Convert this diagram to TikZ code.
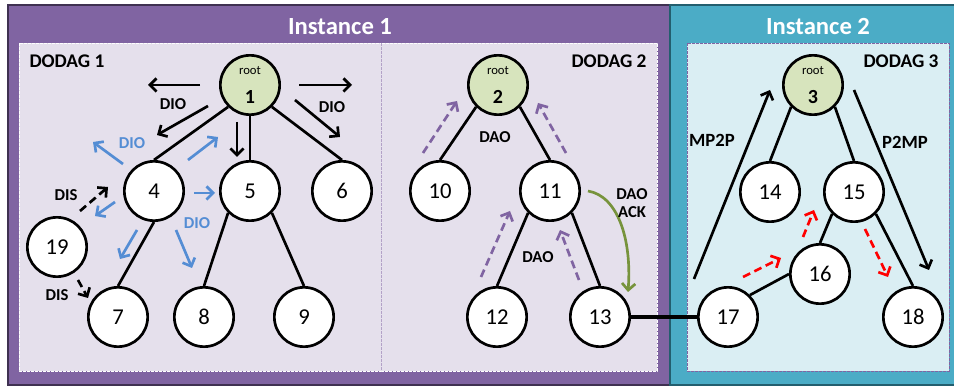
\documentclass[tikz,border=0pt]{standalone}
\usepackage{fontspec}
\setmainfont{Carlito}
\usetikzlibrary{arrows.meta}

\definecolor{instpurple}{RGB}{128,100,162}
\definecolor{instpurpledark}{RGB}{63,49,81}
\definecolor{dodaglav}{RGB}{229,224,236}
\definecolor{dodagedge}{RGB}{179,162,199}
\definecolor{insteal}{RGB}{75,172,198}
\definecolor{instealdark}{RGB}{35,94,110}
\definecolor{dodagblue}{RGB}{218,238,243}
\definecolor{rootgreen}{RGB}{215,228,189}
\definecolor{dioblue}{RGB}{84,141,212}
\definecolor{daopurple}{RGB}{128,100,162}
\definecolor{ackgreen}{RGB}{119,147,60}

\tikzset{every picture/.style={line width=0.75pt}}
\tikzset{
  nd/.style={circle,draw=black,fill=white,line width=2pt,minimum size=44.5pt,inner sep=0pt,font=\fontsize{17}{20}\selectfont},
  rootnd/.style={nd,fill=rootgreen,align=center},
  link/.style={line width=2pt},
  msg/.style={line width=2pt,-{Straight Barb[length=5pt,width=10pt]}},
  dmsg/.style={msg,dash pattern=on 6pt off 3.5pt},
  lbl/.style={font=\bfseries\fontsize{12.5}{14}\selectfont,inner sep=0.75pt},
  dodagbox/.style={line width=0.6pt,dash pattern=on 2pt off 1pt},
}

\begin{document}
\begin{tikzpicture}[x=0.75pt,y=0.75pt,yscale=-1,xscale=1]
\useasboundingbox (0,0) rectangle (954,388);

%Shape: Rectangle [Instance 1]
\draw [instpurpledark,fill=instpurple,line width=1.5pt] (8,5) rectangle (670,385);
%Shape: Rectangle [Instance 2]
\draw [instealdark,fill=insteal,line width=1.5pt] (670,5) rectangle (960,385);
%Shape: Rectangle [DODAG 1]
\draw [dodagbox,draw=white,fill=dodaglav] (19,43) rectangle (381,371);
%Shape: Rectangle [DODAG 2]
\draw [dodagbox,draw=white,fill=dodaglav] (381,43) rectangle (657,371);
\draw [dodagbox,draw=dodagedge] (381,43) -- (381,371);
%Shape: Rectangle [DODAG 3]
\draw [dodagbox,draw=instpurple,fill=dodagblue] (687,43) rectangle (949,371);

% Text Node
\draw (340,27) node [inner sep=0.75pt,text=white,font=\bfseries\fontsize{18.5}{20}\selectfont] (inst1) {Instance 1};
% Text Node
\draw (818,27) node [inner sep=0.75pt,text=white,font=\bfseries\fontsize{18.5}{20}\selectfont] (inst2) {Instance 2};
% Text Node
\draw (28,61) node [anchor=west,inner sep=0.75pt,font=\bfseries\fontsize{14.5}{16}\selectfont] (dodag1) {DODAG 1};
% Text Node
\draw (648,61) node [anchor=east,inner sep=0.75pt,font=\bfseries\fontsize{14.5}{16}\selectfont] (dodag2) {DODAG 2};
% Text Node
\draw (940,61) node [anchor=east,inner sep=0.75pt,font=\bfseries\fontsize{14.5}{16}\selectfont] (dodag3) {DODAG 3};

%Shape: Circle [nodes]
\node [rootnd] (r1) at (250,85) {{\fontsize{9.5}{10}\selectfont root}\\[2pt]{\bfseries\fontsize{15}{15}\selectfont 1}};
\node [rootnd] (r2) at (498,85) {{\fontsize{9.5}{10}\selectfont root}\\[2pt]{\bfseries\fontsize{15}{15}\selectfont 2}};
\node [rootnd] (r3) at (813,85) {{\fontsize{9.5}{10}\selectfont root}\\[2pt]{\bfseries\fontsize{15}{15}\selectfont 3}};
\node [nd] (n4) at (154,191) {4};
\node [nd] (n5) at (250,191) {5};
\node [nd] (n6) at (342,191) {6};
\node [nd] (n7) at (118,317) {7};
\node [nd] (n8) at (204,317) {8};
\node [nd] (n9) at (304,317) {9};
\node [nd] (n19) at (57,247) {19};
\node [nd] (n10) at (440,191) {10};
\node [nd] (n11) at (550,191) {11};
\node [nd] (n12) at (497,317) {12};
\node [nd] (n13) at (600,317) {13};
\node [nd] (n14) at (770,192) {14};
\node [nd] (n15) at (854,192) {15};
\node [nd] (n16) at (820,274) {16};
\node [nd] (n17) at (728,317) {17};
\node [nd] (n18) at (913,317) {18};

%Shape: Lines [tree links]
\draw [link] (r1.south west) -- (n4.north);
\draw [link] (r1.south) -- (n5.north);
\draw [link] (r1.south east) -- (n6.north);
\draw [link] (n4.south) -- (n7.north);
\draw [link] (n5.south west) -- (n8.north);
\draw [link] (n5.south east) -- (n9.north);
\draw [link] (r2.south west) -- (n10.north);
\draw [link] (r2.south east) -- (n11.north);
\draw [link] (n11.south west) -- (n12.north);
\draw [link] (n11.south east) -- (n13.north);
\draw [link] (r3.south west) -- (n14.north);
\draw [link] (r3.south east) -- (n15.north);
\draw [link] (n15.south west) -- (n16.north);
\draw [link] (n15.south east) -- (n18.north);
\draw [link] (n16.west) -- (n17.north east);
\draw [line width=3pt] (n13) -- (n17);

% DIO from root 1
\coordinate (dioA1) at (200,85);  \coordinate (dioA2) at (148,85);
\coordinate (dioB1) at (208,106); \coordinate (dioB2) at (157,135);
\coordinate (dioC1) at (237,122); \coordinate (dioC2) at (237,157);
\coordinate (dioD1) at (299,85);  \coordinate (dioD2) at (352,85);
\coordinate (dioE1) at (295,100); \coordinate (dioE2) at (340,137);
\draw [msg] (dioA1) -- (dioA2);
\draw [msg] (dioB1) -- (dioB2);
\draw [msg] (dioC1) -- (dioC2);
\draw [msg] (dioD1) -- (dioD2);
\draw [msg] (dioE1) -- (dioE2);

% DIO from node 4
\coordinate (bluA1) at (123,164); \coordinate (bluA2) at (93,142);
\coordinate (bluB1) at (188,160); \coordinate (bluB2) at (218,137);
\coordinate (bluC1) at (194,193); \coordinate (bluC2) at (215,193);
\coordinate (bluD1) at (115,202); \coordinate (bluD2) at (95,216);
\coordinate (bluE1) at (137,230); \coordinate (bluE2) at (120,259);
\coordinate (bluF1) at (176,230); \coordinate (bluF2) at (192,268);
\draw [msg,dioblue] (bluA1) -- (bluA2);
\draw [msg,dioblue] (bluB1) -- (bluB2);
\draw [msg,dioblue] (bluC1) -- (bluC2);
\draw [msg,dioblue] (bluD1) -- (bluD2);
\draw [msg,dioblue] (bluE1) -- (bluE2);
\draw [msg,dioblue] (bluF1) -- (bluF2);

% DIS from node 19
\coordinate (disA1) at (80,211); \coordinate (disA2) at (108,187);
\coordinate (disB1) at (78,280); \coordinate (disB2) at (88,298);
\draw [dmsg] (disA1) -- (disA2);
\draw [dmsg] (disB1) -- (disB2);

% DAO in DODAG 2
\coordinate (daoA1) at (423,153); \coordinate (daoA2) at (457,101);
\coordinate (daoB1) at (566,153); \coordinate (daoB2) at (538,103);
\coordinate (daoC1) at (481,277); \coordinate (daoC2) at (510,211);
\coordinate (daoD1) at (579,280); \coordinate (daoD2) at (560,230);
\draw [dmsg,daopurple] (daoA1) -- (daoA2);
\draw [dmsg,daopurple] (daoB1) -- (daoB2);
\draw [dmsg,daopurple] (daoC1) -- (daoC2);
\draw [dmsg,daopurple] (daoD1) -- (daoD2);
% DAO ACK
\coordinate (ack1) at (588,191); \coordinate (ack2) at (628,292);
\draw [msg,ackgreen] (ack1) .. controls (618,196) and (632,240) .. (ack2);

% MP2P / P2MP in DODAG 3
\coordinate (mp1) at (694,279); \coordinate (mp2) at (770,90);
\coordinate (pm1) at (854,90);  \coordinate (pm2) at (929,270);
\draw [msg] (mp1) -- (mp2);
\draw [msg] (pm1) -- (pm2);
\coordinate (redA1) at (743,277); \coordinate (redA2) at (781,258);
\coordinate (redB1) at (803,237); \coordinate (redB2) at (814,210);
\coordinate (redC1) at (865,229); \coordinate (redC2) at (888,277);
\draw [dmsg,red] (redA1) -- (redA2);
\draw [dmsg,red] (redB1) -- (redB2);
\draw [dmsg,red] (redC1) -- (redC2);

% Text Node
\draw (173,104) node [lbl] (tdio1) {DIO};
% Text Node
\draw (332,107) node [lbl] (tdio2) {DIO};
% Text Node
\draw (132,143) node [lbl,text=dioblue] (tdio3) {DIO};
% Text Node
\draw (197,223) node [lbl,text=dioblue] (tdio4) {DIO};
% Text Node
\draw (66,195) node [lbl] (tdis1) {DIS};
% Text Node
\draw (57,295) node [lbl] (tdis2) {DIS};
% Text Node
\draw (495,137) node [lbl] (tdao1) {DAO};
% Text Node
\draw (538,257) node [lbl] (tdao2) {DAO};
% Text Node
\draw (632,203) node [lbl,align=center] (tack) {DAO\\ACK};
% Text Node
\draw (712,140) node [lbl,font=\bfseries\fontsize{14}{16}\selectfont] (tmp2p) {MP2P};
% Text Node
\draw (905,142) node [lbl,font=\bfseries\fontsize{14}{16}\selectfont] (tp2mp) {P2MP};
\end{tikzpicture}
\end{document}
